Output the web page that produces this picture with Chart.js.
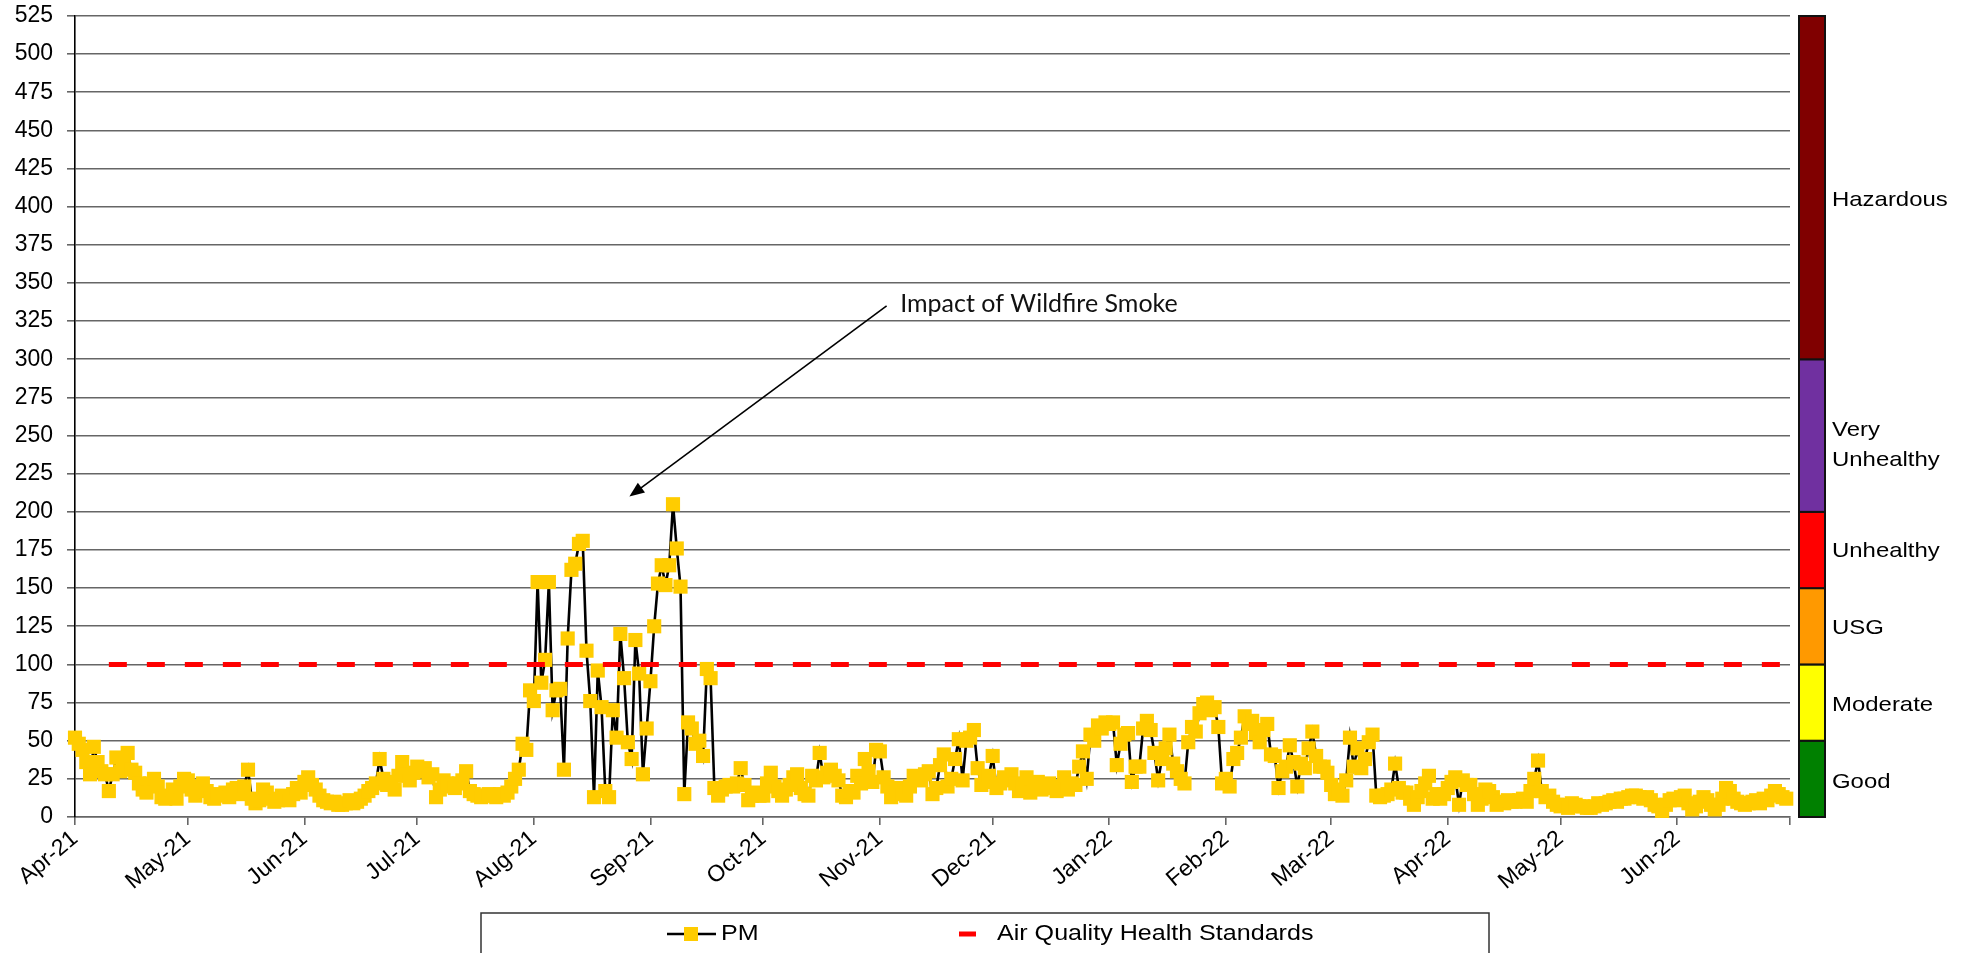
<!DOCTYPE html>
<html><head><meta charset="utf-8">
<script src="https://cdn.jsdelivr.net/npm/chart.js@4/dist/chart.umd.min.js"></script>
<style>html,body{margin:0;padding:0;background:#fff;}canvas{display:block;}</style>
</head><body>
<canvas id="c" width="1970" height="953"></canvas>
<script>
// ---- data (daily PM values, Apr 1 2021 = day 0) ----
const pmApr21 = [52,48,44,36,28,46,36,30,28,17,28,39,30,35,42,31,29,22,18,16,22,25,20,13,12,14,18,12,20,25];
const pmMay21 = [24,18,14,20,22,17,13,12,15,14,16,13,18,19,15,20,31,12,9,11,18,16,12,10,11,14,12,11,15,19,16];
const pmJun21 = [23,26,21,18,14,11,10,9,10,8,8,9,11,9,10,12,14,17,19,22,38,25,21,23,18,27,36,28,24,29];
const pmJul21 = [33,30,32,26,28,13,18,24,22,20,19,22,24,30,17,15,14,13,14,15,14,13,15,14,16,20,25,31,48,44,83];
const pmAug21 = [76,154,88,103,154,70,83,84,31,117,162,166,179,181,109,76,13,96,72,17,13,70,52,120,91,49,38,116,94,28,58];
const pmSep21 = [89,125,153,165,152,165,205,176,151,15,62,58,48,50,40,97,91,19,14,18,20,21,20,22,32,21,11,14,16,14];
const pmOct21 = [14,22,29,20,17,14,18,21,26,28,19,15,14,27,24,42,26,29,31,27,24,14,13,17,16,27,22,38,30,23,44];
const pmNov21 = [43,26,20,13,16,19,15,14,20,27,26,24,28,30,15,19,34,41,20,25,38,51,24,50,52,57,32,21,23,27];
const pmDec21 = [40,19,22,26,24,28,22,17,20,26,16,21,23,18,19,22,20,17,19,26,18,22,21,33,43,25,54,50,60,58,62];
const pmJan22 = [61,62,34,48,54,55,23,33,33,58,63,57,42,24,38,45,54,35,30,25,22,49,59,56,68,74,75,70,72,59,22];
const pmFeb22 = [25,20,38,42,52,66,61,63,55,49,57,61,41,40,19,30,33,47,36,20,35,32,45,56,40,33,33,29];
const pmMar22 = [21,15,18,14,24,52,33,45,32,38,49,54,14,13,14,15,18,35,19,16,16,12,8,13,17,22,27,12,15,12,15];
const pmApr22 = [19,23,26,8,24,21,21,15,8,12,18,17,13,8,10,9,11,10,10,11,12,10,17,25,37,17,13,14,10,8];
const pmMay22 = [7,8,6,9,8,7,7,6,6,7,9,8,9,10,11,10,12,12,13,14,14,13,12,13,11,8,7,4,8,11,12];
const pmJun22 = [11,13,14,9,5,7,10,13,11,8,5,8,12,19,17,12,10,9,8,9,10,11,9,12,11,14,17,15,13,12];

const monthTickDays   = [0,30,61,91,122,153,183,214,244,275,306,334,365,395,426,456];
const monthTickLabels = ['Apr-21','May-21','Jun-21','Jul-21','Aug-21','Sep-21','Oct-21','Nov-21','Dec-21','Jan-22','Feb-22','Mar-22','Apr-22','May-22','Jun-22',''];

const standardValue = 100;
const standardSegments = [[9,388],[398,456]];

const yTicksMin = 0, yTicksMax = 525, yTicksStep = 25;

const aqiBreaks = [0,50,100,150,200,300,525];
const aqiNames  = [['Good'],['Moderate'],['USG'],['Unhealthy'],['Very','Unhealthy'],['Hazardous']];
const aqiColors = ['#008000','#FFFF00','#FF9900','#FF0000','#7030A0','#800000'];
const aqiLabelAt = [23, 73, 124, 174, 244, 404];   // label anchor (axis units)

const annotText = 'Impact of Wildfire Smoke';
const annotTextAt = [219.4, 331];
const annotArrowFrom = [215.8, 335];
const annotArrowTo = [147.4, 210];

const seriesNames = ['PM','Air Quality Health Standards'];

// ---- build datasets ----
const pmAll = [].concat(pmApr21,pmMay21,pmJun21,pmJul21,pmAug21,pmSep21,pmOct21,pmNov21,pmDec21,pmJan22,pmFeb22,pmMar22,pmApr22,pmMay22,pmJun22);
const pmData = pmAll.map((v,i)=>({x:i,y:v}));
const stdData = [];
standardSegments.forEach((s,k)=>{
  if(k>0) stdData.push({x:(standardSegments[k-1][1]+s[0])/2, y:null});
  stdData.push({x:s[0],y:standardValue},{x:s[1],y:standardValue});
});

const FONT = 'Liberation Sans, Arial, sans-serif';
const STRETCH = 1.14;

function stretchedText(ctx, txt, x, y, align){
  ctx.save();
  ctx.translate(x,y);
  ctx.scale(STRETCH,1);
  ctx.textAlign = align || 'left';
  ctx.fillText(txt,0,0);
  ctx.restore();
}

const extras = {
  id:'extras',
  afterDraw(chart){
    const ctx = chart.ctx, ys = chart.scales.y, xs = chart.scales.x, ca = chart.chartArea;
    // AQI colour bar
    const bx = ca.right + 9, bw = 26;
    ctx.save();
    for(let i=0;i<aqiColors.length;i++){
      const yTop = ys.getPixelForValue(aqiBreaks[i+1]);
      const yBot = ys.getPixelForValue(aqiBreaks[i]);
      ctx.fillStyle = aqiColors[i];
      ctx.fillRect(bx, yTop, bw, yBot-yTop);
      ctx.lineWidth = 2; ctx.strokeStyle = '#111';
      ctx.strokeRect(bx, yTop, bw, yBot-yTop);
      const mid = ys.getPixelForValue(aqiLabelAt[i]);
      ctx.fillStyle = '#000';
      ctx.font = '21px ' + FONT;
      ctx.textBaseline = 'middle';
      const lines = aqiNames[i];
      const lh = 30;
      lines.forEach((t,j)=>{
        stretchedText(ctx, t, bx+bw+7, mid + (j-(lines.length-1)/2)*lh, 'left');
      });
    }
    ctx.restore();

    // annotation
    ctx.save();
    const x0 = xs.getPixelForValue(annotArrowFrom[0]), y0 = ys.getPixelForValue(annotArrowFrom[1]);
    const x1 = xs.getPixelForValue(annotArrowTo[0]), y1 = ys.getPixelForValue(annotArrowTo[1]);
    const ang = Math.atan2(y1-y0, x1-x0);
    const hl = 15, hw = 6;
    ctx.strokeStyle = '#000'; ctx.fillStyle = '#000'; ctx.lineWidth = 1.6;
    ctx.beginPath(); ctx.moveTo(x0,y0);
    ctx.lineTo(x1 - Math.cos(ang)*hl*0.8, y1 - Math.sin(ang)*hl*0.8); ctx.stroke();
    ctx.beginPath();
    ctx.moveTo(x1,y1);
    ctx.lineTo(x1 - Math.cos(ang)*hl + Math.sin(ang)*hw, y1 - Math.sin(ang)*hl - Math.cos(ang)*hw);
    ctx.lineTo(x1 - Math.cos(ang)*hl - Math.sin(ang)*hw, y1 - Math.sin(ang)*hl + Math.cos(ang)*hw);
    ctx.closePath(); ctx.fill();
    ctx.font = '25px Lato, "Open Sans", sans-serif';
    ctx.fillStyle = '#111';
    ctx.textBaseline = 'alphabetic'; ctx.textAlign = 'left';
    ctx.fillText(annotText, xs.getPixelForValue(annotTextAt[0]), ys.getPixelForValue(annotTextAt[1]));
    ctx.restore();

    // legend box
    ctx.save();
    const lx = 481, ly = 913, lw = 1008, lhgt = 60;
    ctx.strokeStyle = '#333'; ctx.lineWidth = 1.5;
    ctx.strokeRect(lx, ly, lw, lhgt);
    const cy = 934;
    const pmDs = chart.data.datasets[1];
    ctx.strokeStyle = '#000'; ctx.lineWidth = 2.5;
    ctx.beginPath(); ctx.moveTo(667,cy); ctx.lineTo(716,cy); ctx.stroke();
    ctx.fillStyle = pmDs.pointBackgroundColor;
    ctx.fillRect(691-7, cy-7, 14, 14);
    ctx.fillStyle = '#000'; ctx.font = '22px ' + FONT; ctx.textBaseline = 'middle';
    stretchedText(ctx, seriesNames[0], 721, cy, 'left');
    ctx.strokeStyle = '#FF0000'; ctx.lineWidth = 5;
    ctx.beginPath(); ctx.moveTo(959,cy); ctx.lineTo(976,cy); ctx.stroke();
    ctx.fillStyle = '#000';
    stretchedText(ctx, seriesNames[1], 997, cy, 'left');
    ctx.restore();
  }
};

new Chart(document.getElementById('c'), {
  type:'line',
  data:{
    datasets:[
      { label:seriesNames[1], data:stdData, borderColor:'#FF0000', borderWidth:5, borderDash:[18,20],
        pointRadius:0, spanGaps:false, order:0, borderCapStyle:'butt', clip:false },
      { label:seriesNames[0], data:pmData, borderColor:'#000', borderWidth:2.6, tension:0,
        pointStyle:'rect', pointRadius:10, pointBackgroundColor:'#FFCC00', pointBorderColor:'#FFCC00',
        pointBorderWidth:0, order:1, clip:false }
    ]
  },
  options:{
    responsive:false, animation:false, devicePixelRatio:1,
    layout:{padding:{left:0,right:180,top:16,bottom:0}},
    plugins:{legend:{display:false}, tooltip:{enabled:false}},
    scales:{
      x:{ type:'linear', min:monthTickDays[0], max:monthTickDays[monthTickDays.length-1],
        afterBuildTicks:(s)=>{ s.ticks = monthTickDays.map(v=>({value:v})); },
        afterFit:(s)=>{ s.height = 136; s.paddingLeft = 0; s.paddingRight = 0; },
        ticks:{ autoSkip:false, minRotation:40, maxRotation:40, padding:0, color:'#000',
          font:{family:FONT, size:23},
          callback:(v)=>{ const i = monthTickDays.indexOf(v); return i>=0 ? monthTickLabels[i] : ''; } },
        grid:{ drawOnChartArea:false, drawTicks:true, tickLength:8, color:'#666', lineWidth:1.6 },
        border:{ color:'#666', width:1.6 }
      },
      y:{ min:yTicksMin, max:yTicksMax,
        afterFit:(s)=>{ s.width = 75; s.paddingTop = 0; s.paddingBottom = 0; },
        ticks:{ stepSize:yTicksStep, padding:14, color:'#000', font:{family:FONT, size:23} },
        grid:{ color:'#666', lineWidth:1.6, tickLength:8, drawTicks:true },
        border:{ color:'#000', width:1.6 }
      }
    }
  },
  plugins:[extras]
});
</script>
</body></html>
